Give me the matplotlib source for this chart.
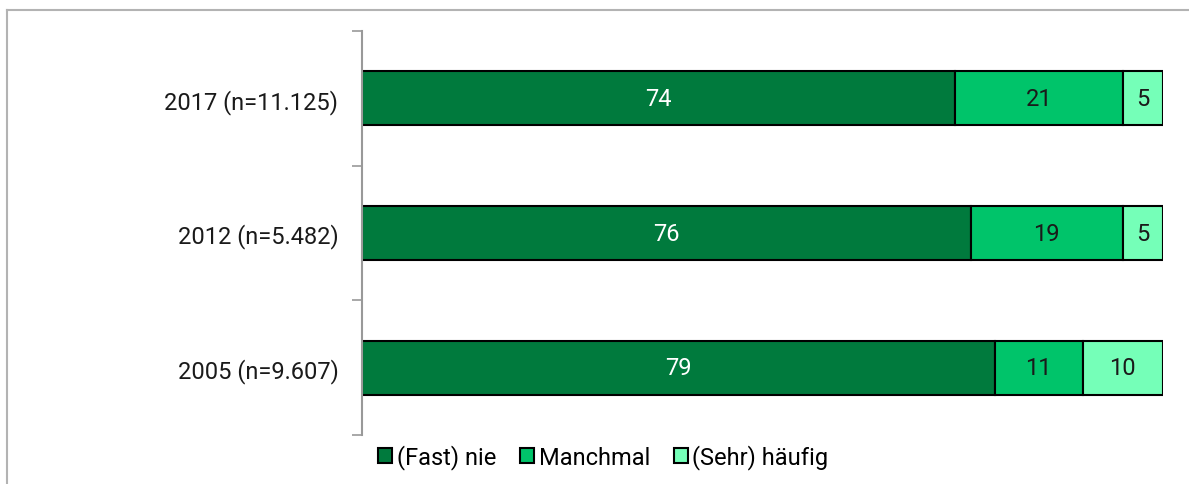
"""Stacked horizontal bars: Häufigkeit nach Erhebungsjahr."""
import matplotlib

matplotlib.use("Agg")
import matplotlib.pyplot as plt
from matplotlib.lines import Line2D

OUT = "out.png"

years = ["2005 (n=9.607)", "2012 (n=5.482)", "2017 (n=11.125)"]
series_names = ["(Fast) nie", "Manchmal", "(Sehr) häufig"]
fast_nie = [79, 76, 74]
manchmal = [11, 19, 21]
sehr_haeufig = [10, 5, 5]

COLORS = ["#007A3D", "#00C46A", "#75FFB8"]
TEXT_COLORS = ["white", "#1a1a1a", "#1a1a1a"]


def main():
    plt.rcParams["font.family"] = ["Roboto", "DejaVu Sans"]

    fig = plt.figure(figsize=(11.89, 4.85), dpi=100)
    ax = fig.add_axes([0.3045, 0.101, 0.978 - 0.3045, 0.833])

    # outer frame (top and left only visible)
    fig.add_artist(Line2D([7 / 1189, 1], [1 - 11 / 485] * 2, color="#b3b3b3", lw=1.5))
    fig.add_artist(Line2D([7 / 1189] * 2, [0, 1 - 11 / 485], color="#b3b3b3", lw=1.5))

    ypos = list(range(len(years)))
    left = [0] * len(years)
    for vals, name, col, tcol in zip(
        [fast_nie, manchmal, sehr_haeufig], series_names, COLORS, TEXT_COLORS
    ):
        bars = ax.barh(ypos, vals, left=left, height=0.4, color=col,
                       edgecolor="black", linewidth=1.5, label=name)
        ax.bar_label(bars, labels=[str(v) for v in vals], label_type="center",
                     color=tcol, fontsize=17)
        left = [a + b for a, b in zip(left, vals)]

    ax.set_xlim(0, 100)
    ax.set_ylim(-0.5, 2.5)
    ax.set_yticks(ypos)
    ax.set_yticklabels(years, fontsize=17, color="#1a1a1a")
    ax.set_yticks([-0.5, 0.5, 1.5, 2.5], minor=True)
    ax.tick_params(axis="y", which="major", length=0, pad=17)
    ax.tick_params(axis="y", which="minor", length=7, width=1.2, color="#999999")
    ax.set_xticks([])
    for side in ["top", "right", "bottom"]:
        ax.spines[side].set_visible(False)
    ax.spines["left"].set_color("#999999")
    ax.spines["left"].set_linewidth(1.5)

    ax.legend(loc="upper left", bbox_to_anchor=(0.008, 0.0), ncol=3,
              frameon=False, fontsize=17, handlelength=0.6, handleheight=0.6,
              handletextpad=0.2, columnspacing=1.0, borderaxespad=0)

    fig.savefig(OUT, dpi=100)


if __name__ == "__main__":
    main()
